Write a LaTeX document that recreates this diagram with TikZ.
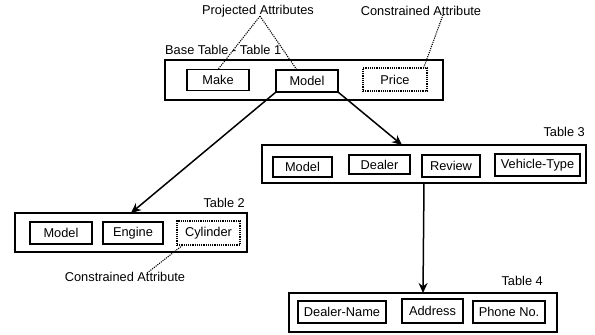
\documentclass[tikz,border=0pt]{standalone}
\usepackage{fontspec}
\setmainfont{Liberation Sans}
\usetikzlibrary{arrows.meta}
\tikzstyle{tablebox}=[draw, line width=1.2pt, inner sep=0, outer sep=0]
\tikzstyle{attr}=[draw, line width=1.6pt, inner sep=0, outer sep=0, minimum height=21pt]
\tikzstyle{cattr}=[attr, line width=1.2pt, dash pattern=on 1.2pt off 1pt]
\tikzstyle{tlabel}=[inner sep=0]
\tikzstyle{link}=[line width=1.5pt, -{Stealth[length=10pt, width=9pt]}]
\tikzstyle{pointer}=[line width=1.1pt, dash pattern=on 1.1pt off 1.1pt]
\begin{document}
\begin{tikzpicture}[x=1pt, y=-1pt,
                    % every text in the same face
                    every node/.style={font=\fontsize{12.8}{13}\selectfont}]
    \useasboundingbox (0, 0) rectangle (595, 335);
    % Base table
    \node[tablebox, minimum width=278pt, minimum height=40pt] (T1) at (304, 80) {};
    \node[attr, minimum width=62pt] (Make) at (218, 80) {Make};
    \node[attr, minimum width=62pt, minimum height=22pt] (Model1) at (307, 81) {Model};
    \node[cattr, minimum width=64pt, minimum height=23pt] (Price) at (395, 79.5) {Price};
    \node[tlabel, anchor=west] (T1lbl) at (165, 50) {Base Table - Table 1};
    % Table 2
    \node[tablebox, minimum width=232pt, minimum height=39pt] (T2) at (131, 232.5) {};
    \node[attr, minimum width=62pt, minimum height=22pt] (Model2) at (61, 233) {Model};
    \node[attr, minimum width=60pt, minimum height=22pt] (Engine) at (133, 233) {Engine};
    \node[cattr, minimum width=63pt, minimum height=24pt] (Cylinder) at (208.5, 233) {Cylinder};
    \node[tlabel, anchor=east] (T2lbl) at (245, 203) {Table 2};
    % Table 3
    \node[tablebox, minimum width=324pt, minimum height=38pt] (T3) at (424, 164) {};
    \node[attr, minimum width=59pt, minimum height=20pt] (Model3) at (302.5, 167) {Model};
    \node[attr, minimum width=61pt, minimum height=19pt] (Dealer) at (379.5, 164.5) {Dealer};
    \node[attr, minimum width=58pt, minimum height=22pt] (Review) at (451, 166) {Review};
    \node[attr, minimum width=85pt, minimum height=22pt] (VType) at (537.5, 165) {Vehicle-Type};
    \node[tlabel, anchor=east] (T3lbl) at (585, 132) {Table 3};
    % Table 4
    \node[tablebox, minimum width=268pt, minimum height=39pt] (T4) at (423, 312.5) {};
    \node[attr, minimum width=88pt, minimum height=22pt] (DName) at (342, 312) {Dealer-Name};
    \node[attr, minimum width=61pt, minimum height=24pt] (Address) at (432.5, 311) {Address};
    \node[attr, minimum width=72pt, minimum height=22pt] (Phone) at (509, 312) {Phone No.};
    \node[tlabel, anchor=east] (T4lbl) at (543, 281) {Table 4};
    % Notes
    \node[tlabel] (Proj) at (258, 11) {Projected Attributes};
    \node[tlabel] (Cons1) at (421, 11) {Constrained Attribute};
    \node[tlabel] (Cons2) at (125, 277) {Constrained Attribute};
    \draw[pointer] ([xshift=2pt, yshift=1pt]Proj.south) -- (Make.north);
    \draw[pointer] ([xshift=2pt, yshift=1pt]Proj.south) -- ([xshift=-10pt]Model1.north);
    \draw[pointer] ([xshift=22pt, yshift=1pt]Cons1.south) -- ([xshift=-3pt, yshift=1pt]Price.north east);
    \draw[pointer] ([xshift=22pt, yshift=-1pt]Cons2.north) -- ([xshift=6pt]Cylinder.south west);
    % Links
    \draw[link] (Model1.south west) -- (T2.north);
    \draw[link] (Model1.south east) -- ([xshift=-22pt]T3.north);
    \draw[link] (T3.south) -- (T4.north);
\end{tikzpicture}
\end{document}
